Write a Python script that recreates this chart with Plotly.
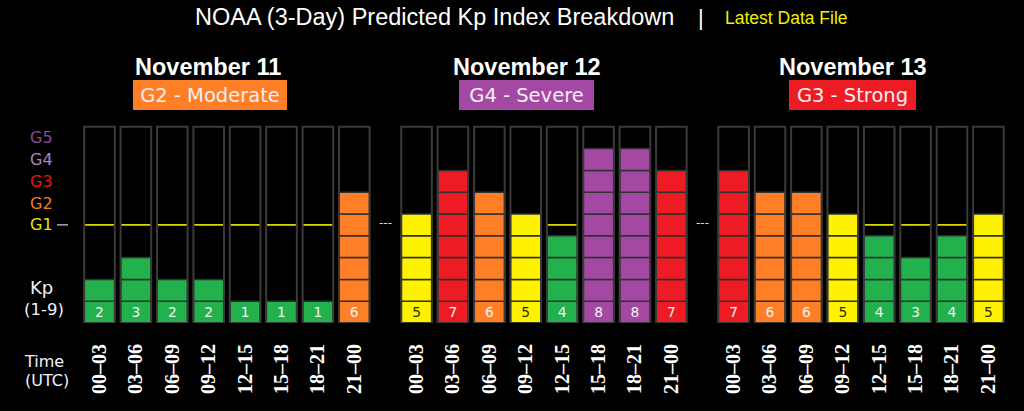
import plotly.graph_objects as go

# ---------------- data ----------------
days = ["November 11", "November 12", "November 13"]
storm_labels = ["G2 - Moderate", "G4 - Severe", "G3 - Strong"]
time_slots = ["00–03", "03–06", "06–09", "09–12", "12–15", "15–18", "18–21", "21–00"]
kp_nov11 = [2, 3, 2, 2, 1, 1, 1, 6]
kp_nov12 = [5, 7, 6, 5, 4, 8, 8, 7]
kp_nov13 = [7, 6, 6, 5, 4, 3, 4, 5]
g_levels = ["G1", "G2", "G3", "G4", "G5"]
kp_scale_max = 9

# ---------------- style ----------------
W, H = 1024, 411
PITCH = 36.4          # px per slot
CELL = 21.8           # px per Kp unit
X0 = 99.5             # px centre of first column
BOTTOM = 323          # px of Kp = 0
DAY_STEP = 8.71       # slot units between day groups
BAR_W = 0.84

GREEN, YELLOW, ORANGE, RED, PURPLE = "#22b14c", "#fff200", "#ff7f27", "#ed1c24", "#a349a4"


def kp_color(kp):
    if kp <= 4:
        return GREEN
    if kp == 5:
        return YELLOW
    if kp == 6:
        return ORANGE
    if kp == 7:
        return RED
    return PURPLE


day_kp = [kp_nov11, kp_nov12, kp_nov13]
xs, kps = [], []
for d, vals in enumerate(day_kp):
    for i, v in enumerate(vals):
        xs.append(d * DAY_STEP + i)
        kps.append(v)

fig = go.Figure()

# stacked cells, one trace per Kp level
for k in range(1, kp_scale_max + 1):
    sel = [(x, v) for x, v in zip(xs, kps) if v >= k]
    if not sel:
        continue
    sx = [s[0] for s in sel]
    sv = [s[1] for s in sel]
    kw = {}
    if k == 1:
        kw = dict(
            text=[str(v) for v in sv],
            textposition="inside",
            insidetextanchor="middle",
            textangle=0,
            textfont=dict(family="DejaVu Sans", size=14,
                          color=["#2b2b00" if kp_color(v) == YELLOW else "#f2f2f2" for v in sv]),
        )
    fig.add_trace(go.Bar(
        x=sx, y=[1] * len(sx), base=[k - 1] * len(sx), width=BAR_W,
        marker=dict(color=[kp_color(v) for v in sv],
                    line=dict(color="#303030", width=1.5)),
        hoverinfo="skip", showlegend=False, **kw))

# column outlines (full 1-9 scale)
fig.add_trace(go.Bar(
    x=xs, y=[kp_scale_max] * len(xs), base=[0] * len(xs), width=BAR_W,
    marker=dict(color="rgba(0,0,0,0)", line=dict(color="#3a3a3a", width=2)),
    hoverinfo="skip", showlegend=False))

shapes = []
# G1 threshold line inside each column
for x in xs:
    shapes.append(dict(type="line", xref="x", yref="y", x0=x - BAR_W / 2, x1=x + BAR_W / 2,
                       y0=4.5, y1=4.5, line=dict(color="#ffff00", width=1.5), layer="below"))
# small white dash next to G1
shapes.append(dict(type="line", xref="paper", yref="y", x0=57 / W, x1=68 / W, y0=4.5, y1=4.5,
                   line=dict(color="#ffffff", width=1)))


def px_x(px):
    return px / W


def px_y(py):
    return (BOTTOM - py) / BOTTOM


annotations = []


def ann(text, x, y, size, color, family="DejaVu Sans", weight=None, **kw):
    f = dict(family=family, size=size, color=color)
    if weight:
        f["weight"] = weight
    a = dict(text=text, xref="paper", yref="paper", x=px_x(x), y=px_y(y),
             xanchor="center", yanchor="middle", showarrow=False, font=f)
    a.update(kw)
    annotations.append(a)


# title
ann("NOAA (3-Day) Predicted Kp Index Breakdown", 434, 17, 23.5, "#ffffff", "Liberation Sans")
ann("|", 701, 18, 22, "#ffffff", "Liberation Sans")
ann("Latest Data File", 786, 18, 17.5, "#f0f000", "Liberation Sans")

# day headers
title_cx = [208, 527, 853]
badge_cx = [210, 526.5, 852.5]
badge_w = [154, 135, 127]
badge_col = [ORANGE, PURPLE, RED]
for d in range(3):
    ann(days[d], title_cx[d], 67, 23.5, "#ffffff", "Liberation Sans", weight="bold")
    ann(storm_labels[d], badge_cx[d], 95, 19.5, "#f6eef2", "DejaVu Sans",
        bgcolor=badge_col[d], width=badge_w[d], height=30, borderpad=0, borderwidth=0)

# G scale labels
g_cols = ["#e6e600", "#f27b2a", "#e3151f", "#a685c9", "#8a4a9c"]
for i, g in enumerate(g_levels):
    yk = 4.5 + i
    ann(g, 41, BOTTOM - yk * CELL, 16, g_cols[i])

ann("Kp", 41, 287, 18, "#f0f2f8")
ann("(1-9)", 44, 309, 16.5, "#f0f2f8")
ann("Time", 44, 361, 16, "#f0f2f8")
ann("(UTC)", 47, 380, 16, "#f0f2f8")

# separators between days
for sx in [385, 702]:
    ann("---", sx, 223, 12, "#dddddd")

fig.update_layout(
    width=W, height=H,
    margin=dict(l=0, r=0, t=0, b=H - BOTTOM, autoexpand=False),
    paper_bgcolor="#000000", plot_bgcolor="#000000",
    barmode="overlay", showlegend=False,
    xaxis=dict(range=[-X0 / PITCH, (W - X0) / PITCH],
               tickvals=xs, ticktext=time_slots * 3, tickangle=-90,
               tickfont=dict(family="Liberation Serif", size=20, color="#ffffff", weight="bold"),
               ticklabelstandoff=16, showgrid=False, zeroline=False, showline=False,
               ticks="", fixedrange=True, automargin=False),
    yaxis=dict(range=[0, BOTTOM / CELL], visible=False, showgrid=False, zeroline=False,
               fixedrange=True),
    shapes=shapes, annotations=annotations,
)

fig.write_html("out.html", config={"displayModeBar": False},
               post_script="document.body.style.margin='0px';document.body.style.background='#000';")
